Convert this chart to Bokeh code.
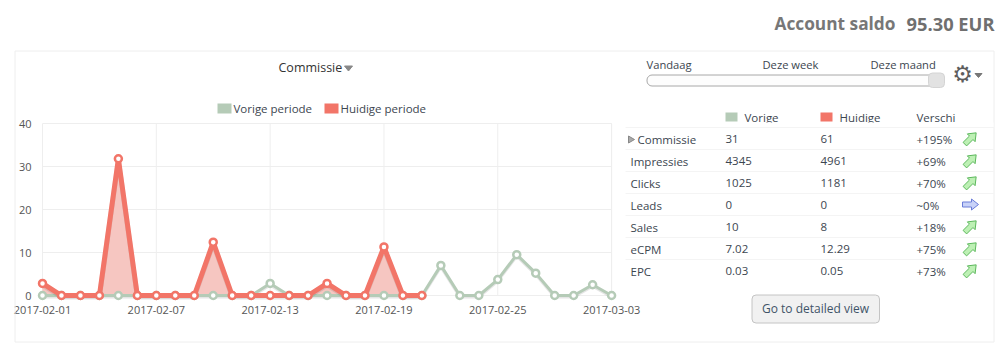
import math
import numpy as np
from bokeh.plotting import figure
from bokeh.embed import file_html
from bokeh.resources import INLINE
from bokeh.models import Range1d, Label, BoxAnnotation, PolyAnnotation, FixedTicker, DatetimeTickFormatter, DatetimeAxis, LinearAxis

# ---- data
dates = np.arange(np.datetime64("2017-02-01"), np.datetime64("2017-03-04")).astype("datetime64[ms]")
vorige = [0, 0, 0, 0, 0, 0, 0, 0, 0, 0, 0, 0, 2.8, 0, 0, 0, 0, 0, 0, 0, 0,
          7, 0, 0, 3.7, 9.5, 5.2, 0, 0, 2.5, 0]
huidige = [2.8, 0, 0, 0, 31.8, 0, 0, 0, 0, 12.4, 0, 0, 0, 0, 0, 2.8, 0, 0, 11.3, 0, 0]
y_ticks = [0, 10, 20, 30, 40]
x_ticks = ["2017-02-01", "2017-02-07", "2017-02-13", "2017-02-19", "2017-02-25", "2017-03-03"]
series_names = ["Vorige periode", "Huidige periode"]
rows = ["Commissie", "Impressies", "Clicks", "Leads", "Sales", "eCPM", "EPC"]
col_vorige = ["31", "4345", "1025", "0", "10", "7.02", "0.03"]
col_huidige = ["61", "4961", "1181", "0", "8", "12.29", "0.05"]
col_diff = ["+195%", "+69%", "+70%", "~0%", "+18%", "+75%", "+73%"]
col_trend = ["up", "up", "up", "flat", "up", "up", "up"]
header = ["Vorige", "Huidige", "Verschi"]
periods = ["Vandaag", "Deze week", "Deze maand"]

GREEN = "#b5cbb7"
RED = "#f27568"
FONT = "Open Sans"
TXT = "#3c4650"
GRID = "#eeeeee"

day = 86400000.0
t0 = np.datetime64("2017-02-01").astype("datetime64[ms]").astype("int64")
xpx = 18.97      # pixels per day
ypx = 4.3        # pixels per unit
x0_px, y0_px = 42, 295   # where 2017-02-01 and value 0 sit on the page
L, B = 10, 345           # frame edges: the frame holds everything on the page

p = figure(width=1008, height=361, output_backend="svg", toolbar_location=None,
           x_range=Range1d(L, 1008), y_range=Range1d(B, 0),
           x_axis_location=None, y_axis_location=None,
           min_border_left=L, min_border_right=0, min_border_top=0, min_border_bottom=361 - B)
p.outline_line_color = None
p.border_fill_color = "white"
p.grid.visible = False
p.extra_x_ranges["d"] = Range1d(float(t0) + (L - x0_px) / xpx * day, float(t0) + (1008 - x0_px) / xpx * day)
p.extra_y_ranges["v"] = Range1d((y0_px - B) / ypx, y0_px / ypx)

tick_dates = np.array(x_ticks, dtype="datetime64[ms]")
xax = DatetimeAxis(x_range_name="d", ticker=FixedTicker(ticks=[float(t) for t in tick_dates.astype("int64")]),
                   formatter=DatetimeTickFormatter(days="%Y-%m-%d", months="%Y-%m-%d", years="%Y-%m-%d", hours="%Y-%m-%d"))
yax = LinearAxis(y_range_name="v", ticker=FixedTicker(ticks=y_ticks))
for ax in (xax, yax):
    ax.axis_line_color = None
    ax.major_tick_line_color = None
    ax.minor_tick_line_color = None
    ax.major_label_text_font = FONT
    ax.major_label_text_font_size = "11px"
    ax.major_label_text_color = "#555555"
xax.major_label_standoff = -46
yax.major_label_standoff = -27
p.add_layout(xax, "below")
p.add_layout(yax, "left")

C = dict(x_range_name="d", y_range_name="v")
# grid confined to the nominal axis range
p.segment(tick_dates, 0, tick_dates, y_ticks[-1], line_color=GRID, line_width=1, **C)
p.segment(dates[0], y_ticks, dates[-1], y_ticks, line_color=GRID, line_width=1, **C)
p.segment(dates[-1], 0, dates[-1], y_ticks[-1], line_color=GRID, line_width=1, **C)

hd = dates[:len(huidige)]
p.varea(hd, 0, huidige, fill_color="#f6c6c1", fill_alpha=1, **C)
shadow = 1.5 / ypx
p.line(dates, np.array(vorige) - shadow, line_color="#000000", line_alpha=0.10, line_width=3, **C)
p.line(dates, vorige, line_color=GREEN, line_width=3, **C)
p.scatter(dates, vorige, size=7, marker="circle", fill_color="white", line_color=GREEN, line_width=2.5, **C)
p.line(hd, np.array(huidige) - shadow, line_color="#000000", line_alpha=0.10, line_width=5, **C)
p.line(hd, huidige, line_color=RED, line_width=5, line_join="round", **C)
p.scatter(hd, huidige, size=7, marker="circle", fill_color="white", line_color=RED, line_width=2.5, **C)


def box(l, r, t, b, fill=None, line=None, radius=0):
    p.add_layout(BoxAnnotation(left=l, right=r, top=t, bottom=b, fill_color=fill, fill_alpha=1 if fill else 0,
                               line_color=line, line_width=1, line_alpha=1 if line else 0,
                               border_radius=radius))

def text(x, y, s, size=11.5, color=TXT, style="normal", align="left", font=FONT):
    p.add_layout(Label(x=x, y=y, text=s, text_font=font, text_font_size=f"{size}px", text_color=color,
                       text_font_style=style, text_align=align, text_baseline="middle"))

def poly(xs, ys, fill, line):
    p.add_layout(PolyAnnotation(xs=list(xs), ys=list(ys), fill_color=fill, fill_alpha=1,
                                line_color=line, line_width=1, line_alpha=1))

def arrow(cx, cy, angle, fill, line):
    px_ = [-8, 1, 1, 8, 1, 1, -8]
    py_ = [-2.5, -2.5, -5.5, 0, 5.5, 2.5, 2.5]
    c, s = math.cos(angle), math.sin(angle)
    poly([cx + a * c - b * s for a, b in zip(px_, py_)],
         [cy + a * s + b * c for a, b in zip(px_, py_)], fill, line)

def tri_down(cx, cy, w, h, color):
    poly([cx - w / 2, cx + w / 2, cx], [cy - h / 2, cy - h / 2, cy + h / 2], color, color)

# panel border
box(14.5, 993.5, 50.5, 341.5, fill=None, line=GRID)

# header
text(895, 23, "Account saldo", 17.3, "#777777", "bold", "right")
text(994, 23, "95.30 EUR", 18.3, "#6f6f6f", "bold", "right")

# chart title and legend
text(278, 67, "Commissie", 12.5, "#333333")
tri_down(348, 68, 8, 5, "#888888")
box(217, 231, 103, 113, fill=GREEN)
text(233, 107.5, series_names[0], 11.5)
box(324, 338, 103, 113, fill=RED)
text(340, 107.5, series_names[1], 11.5)

# period slider
for x, s in zip([646, 762, 870], periods):
    text(x, 63.5, s, 11.2)
box(646.5, 943, 74.5, 85.5, fill="#fdfdfd", line="#a8a8a8", radius=5)
box(928, 944, 72.5, 87, fill="#e2e2e2", line="#d4d4d4", radius=4)
text(962, 73, "\u2699", 23, "#5e5e5e", "bold", "center", "DejaVu Sans")
tri_down(978, 75, 7, 4, "#777777")

# table header
box(725, 737, 112, 121, fill=GREEN)
text(744, 116.5, header[0], 11.5)
box(820, 832, 112, 121, fill=RED)
text(839, 116.5, header[1], 11.5)
text(916, 116.5, header[2], 11.5)
box(725, 993, 122, 126.5, fill="white")

# table rows
row_h = 22
for i, name in enumerate(rows):
    yc = 138.5 + i * row_h
    box(625, 993, 127 + i * row_h, 127.6 + i * row_h, fill="#e9e9e9")
    if i == 0:
        poly([628, 628, 634], [135.5, 142.5, 139], "#aaaaaa", "#888888")
    text(637 if i == 0 else 630, yc, name)
    text(725, yc, col_vorige[i])
    text(820, yc, col_huidige[i])
    text(916, yc, col_diff[i])
    if col_trend[i] == "up":
        arrow(970, yc - 0.5, -math.pi / 4, "#bdf0b4", "#5cb85c")
    else:
        arrow(970, yc - 0.5, 0, "#c8d2f8", "#6a7cd8")

# button
box(751.5, 879, 294.5, 322.5, fill="#f1f1f1", line="#c4c4c4", radius=4)
text(815, 308, "Go to detailed view", 12, "#3f5468", "normal", "center")

open("out.html", "w").write(file_html(p, INLINE))
